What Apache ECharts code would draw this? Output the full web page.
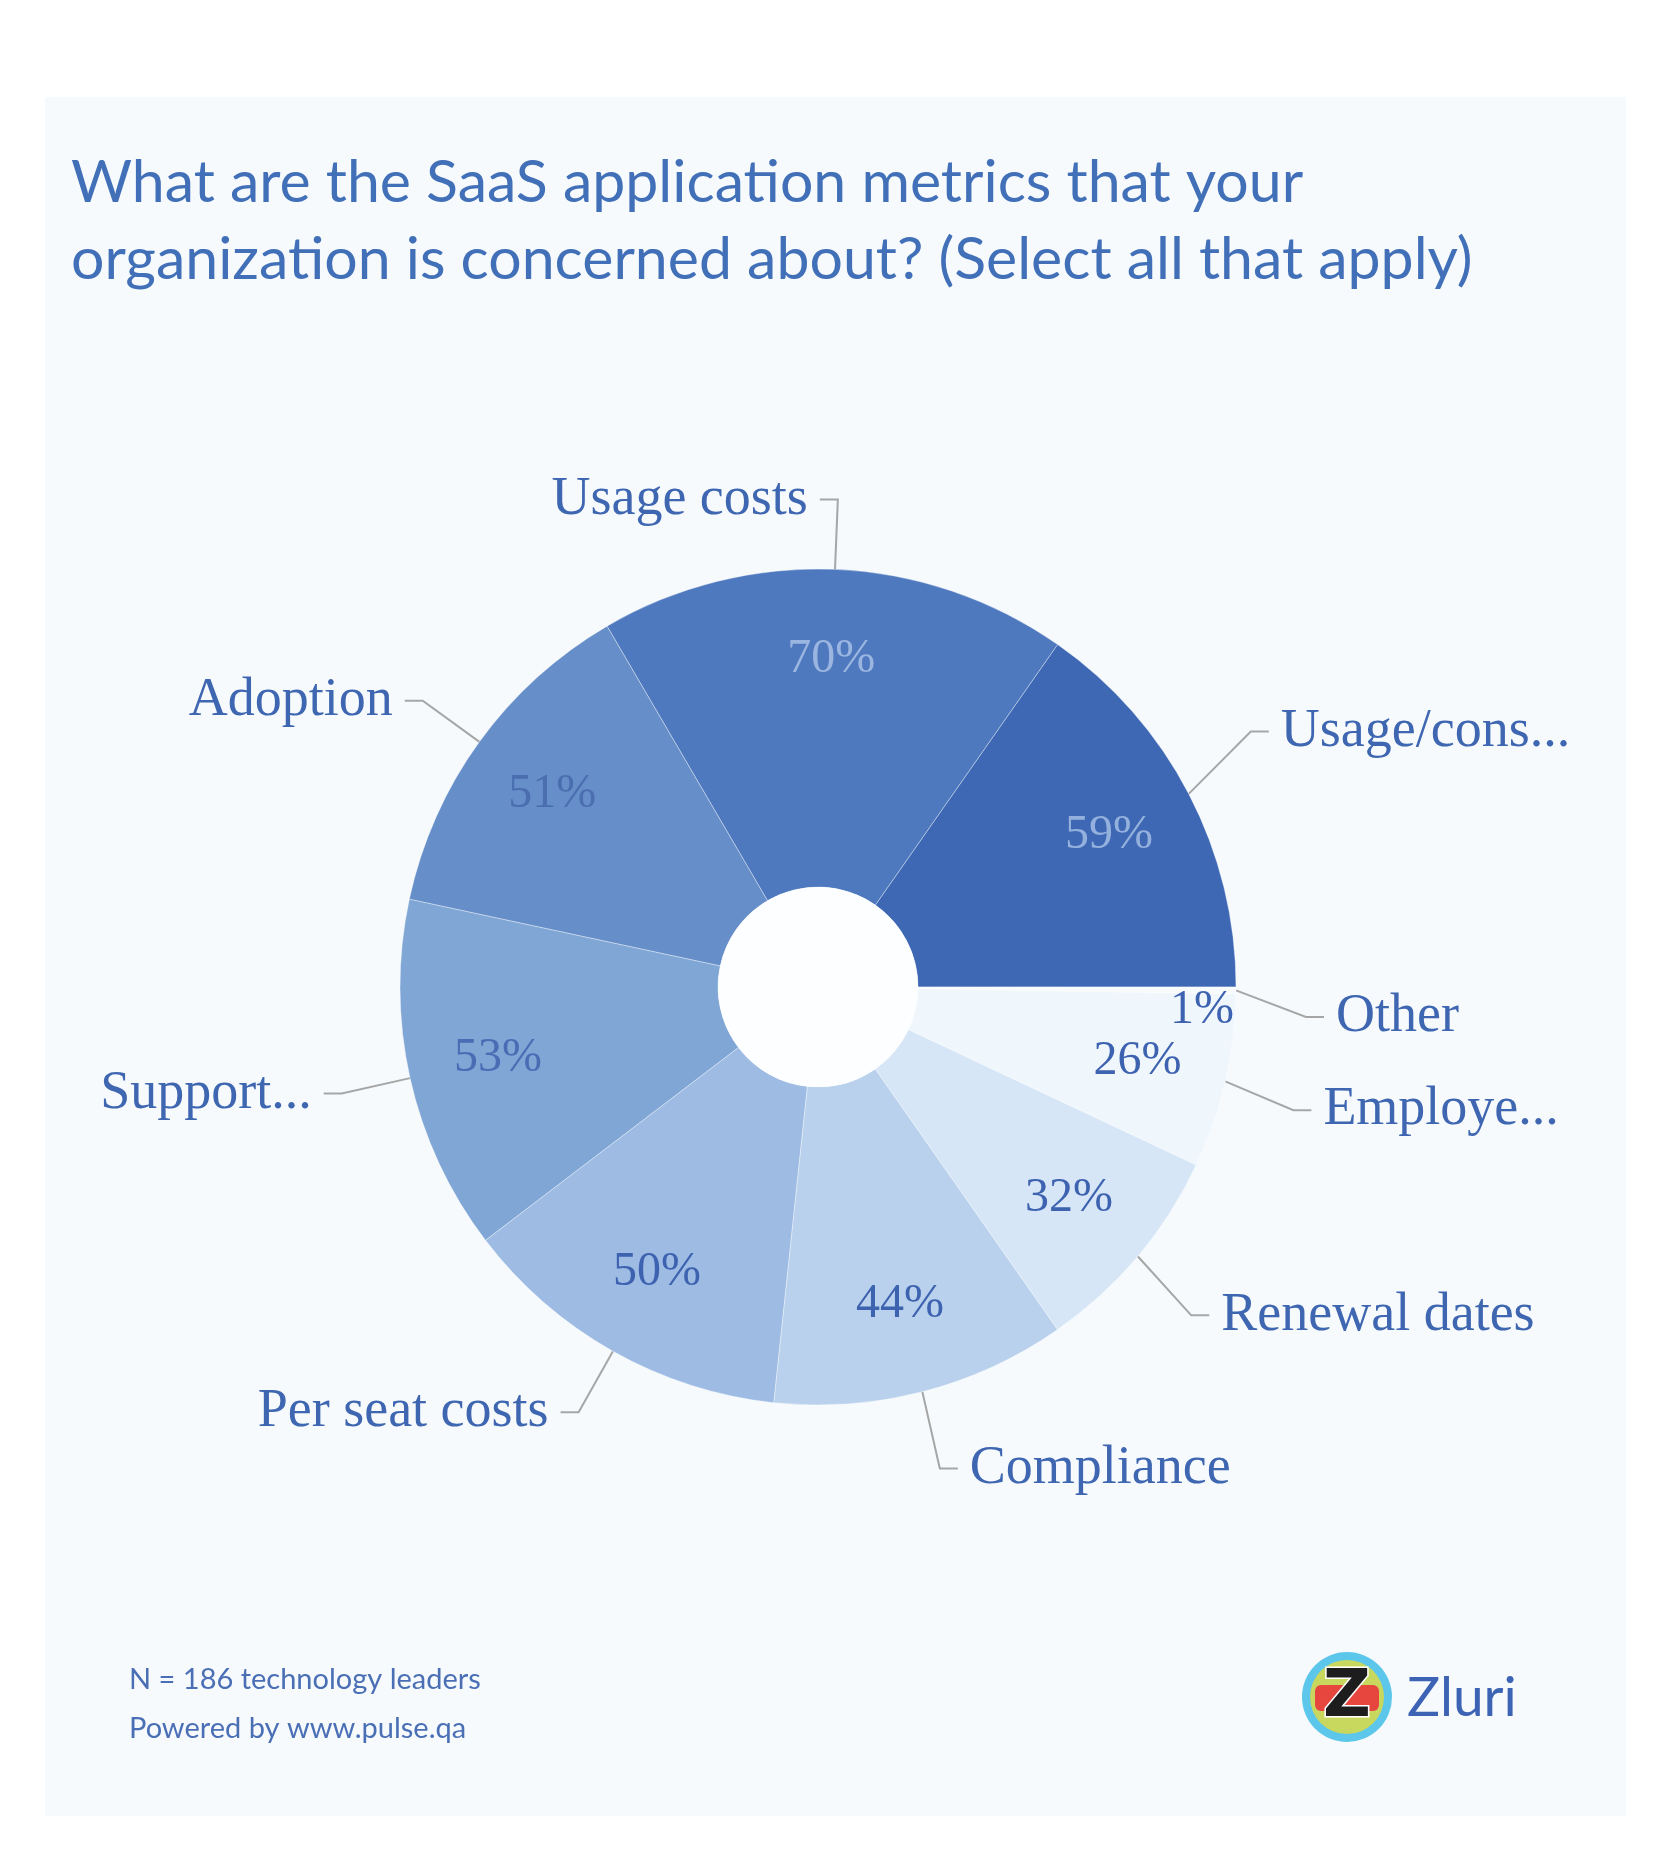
<!DOCTYPE html>
<html>
<head>
<meta charset="utf-8">
<script src="https://cdn.jsdelivr.net/npm/echarts@6/dist/echarts.min.js"></script>
<style>
html,body{margin:0;padding:0;background:#ffffff;}
#chart{width:1671px;height:1858px;}
</style>
</head>
<body>
<div id="chart"></div>
<script>
// ---- data ----
const categories = ["Usage/cons...", "Usage costs", "Adoption", "Support...", "Per seat costs", "Compliance", "Renewal dates", "Employe...", "Other"];
const values = [59, 70, 51, 53, 50, 44, 32, 26, 1];
const titleText = "What are the SaaS application metrics that your\norganization is concerned about? (Select all that apply)";
const footnotes = ["N = 186 technology leaders", "Powered by www.pulse.qa"];
const brand = "Zluri";

// ---- styles ----
const palette = ["#3e68b4", "#4f79bf", "#668ec8", "#80a6d6", "#9ebbe3", "#b9d1ec", "#d6e6f6", "#eff6fc", "#f8fbfe"];
const insideColors = ["#94b1de", "#9ab5e0", "#4a6eaf", "#4a6cb4", "#3d62b0", "#3d62b0", "#3d62b0", "#3d62b0", "#3d62b0"];
const serif = "'Liberation Serif','Times New Roman',serif";
const sans = "Lato, 'Open Sans', sans-serif";
const CX = 818, CY = 987, R0 = 100, R = 418;
const LEN2 = 18, GAP = 12;
// vertical nudges of the outer labels (px), by data index
const labelNudge = { 0: -30, 5: 9, 6: 14, 7: 13, 8: 26 };

const baseData = categories.map((n, i) => ({ name: n, value: values[i] }));
const insideData = categories.map((n, i) => {
  const d = { name: n, value: values[i], label: { color: insideColors[i] } };
  if (i === categories.length - 1) d.label.offset = [56, 21];
  return d;
});

function outerLabelLayout(params) {
  const p = params.labelLinePoints;
  if (!p) return {};
  if (params.dataIndex === 1) {
    // label to the left of the leader line
    const knee = p[1];
    const end = [knee[0] - LEN2, knee[1]];
    return { x: end[0] - GAP, y: knee[1], align: 'right', verticalAlign: 'middle', labelLinePoints: [p[0], knee, end] };
  }
  const dy = labelNudge[params.dataIndex];
  if (dy) {
    const right = p[2][0] >= p[1][0];
    const knee = [p[1][0], p[1][1] + dy];
    const end = [p[2][0], p[2][1] + dy];
    return {
      x: end[0] + (right ? GAP : -GAP), y: end[1],
      align: right ? 'left' : 'right', verticalAlign: 'middle',
      labelLinePoints: [p[0], knee, end]
    };
  }
  return {};
}

const chart = echarts.init(document.getElementById('chart'), null, { renderer: 'canvas' });
chart.setOption({
  backgroundColor: '#ffffff',
  animation: false,
  color: palette,
  title: {
    text: titleText,
    left: 66, top: 139,
    textStyle: { fontFamily: sans, fontSize: 59, fontWeight: 'normal', color: '#4170b8', lineHeight: 77 }
  },
  graphic: [
    { type: 'rect', z: -10, shape: { x: 45, y: 97, width: 1581, height: 1719 }, style: { fill: '#f6fafd' }, silent: true },
    { type: 'circle', z: 100, shape: { cx: CX, cy: CY, r: R0 }, style: { fill: '#fdfeff' }, silent: true },
    { type: 'text', left: 129, top: 1665, style: { text: footnotes[0], fontFamily: sans, fontSize: 29, fill: '#4a6fb5' } },
    { type: 'text', left: 129, top: 1714, style: { text: footnotes[1], fontFamily: sans, fontSize: 29, fill: '#4a6fb5' } },
    { type: 'group', left: 1302, top: 1652, children: [
      { type: 'circle', shape: { cx: 45, cy: 45, r: 45 }, style: { fill: '#5cc7ea' } },
      { type: 'circle', shape: { cx: 45, cy: 45, r: 37 }, style: { fill: '#c8d85e' } },
      { type: 'rect', shape: { x: 13, y: 33, width: 64, height: 26, r: 6 }, style: { fill: '#e7463f' } },
      { type: 'text', style: { text: 'Z', x: 45, y: 47, align: 'center', verticalAlign: 'middle', fontFamily: "'DejaVu Sans', sans-serif", fontWeight: 'bold', fontSize: 66, fill: '#1d1d1d', stroke: '#ffffff', lineWidth: 3 } }
    ]},
    { type: 'text', left: 1407, top: 1671, style: { text: brand, fontFamily: sans, fontSize: 55, fill: '#3d63b5' } }
  ],
  series: [
    {
      type: 'pie',
      center: [CX, CY],
      radius: [R0, R],
      startAngle: 0,
      clockwise: false,
      avoidLabelOverlap: true,
      data: baseData,
      itemStyle: { borderColor: 'rgba(255,255,255,0.35)', borderWidth: 1 },
      label: {
        show: true, position: 'outside', formatter: '{b}',
        fontFamily: serif, fontSize: 54, color: '#3f67b1',
        distanceToLabelLine: GAP, overflow: 'none'
      },
      labelLine: { show: true, length: 70, length2: LEN2, smooth: false, lineStyle: { color: '#a6a6a6', width: 2 } },
      labelLayout: outerLabelLayout,
      emphasis: { disabled: true }
    },
    {
      type: 'pie',
      center: [CX, CY],
      radius: [232, R],
      startAngle: 0,
      clockwise: false,
      silent: true,
      z: 3,
      data: insideData,
      itemStyle: { color: 'rgba(0,0,0,0)' },
      label: { show: true, position: 'inside', formatter: '{c}%', fontFamily: serif, fontSize: 48 },
      labelLine: { show: false },
      emphasis: { disabled: true }
    }
  ]
});
</script>
</body>
</html>
